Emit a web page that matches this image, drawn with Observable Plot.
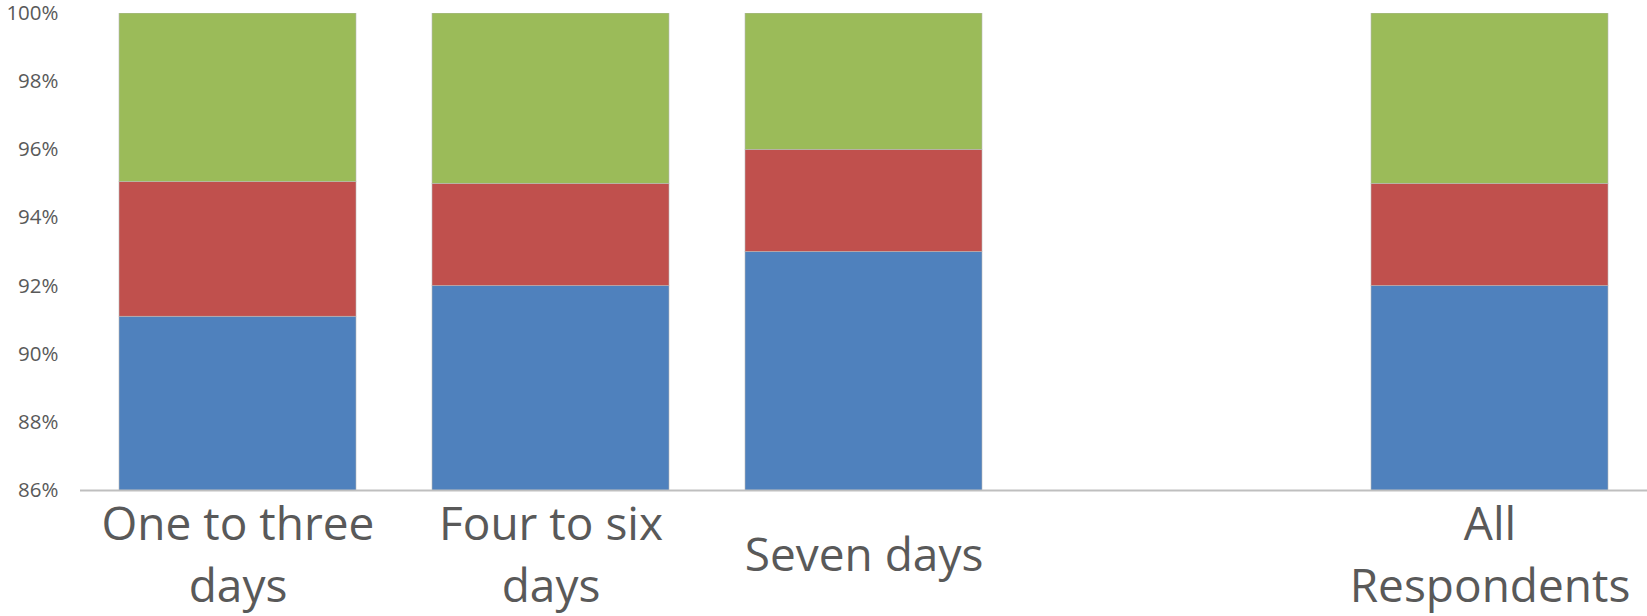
<!DOCTYPE html>
<html>
<head>
<meta charset="utf-8">
<script src="https://cdn.jsdelivr.net/npm/d3@7"></script>
<script src="https://cdn.jsdelivr.net/npm/@observablehq/plot@0.6"></script>
<style>
  html, body { margin: 0; padding: 0; background: #fff; }
  #chart svg { display: block; }
</style>
</head>
<body>
<div id="chart"></div>
<script>
// Categories (the empty slot is a gap in the original chart)
const categories = ["One to three\ndays", "Four to six\ndays", "Seven days", "", "All\nRespondents"];
const barCategories = ["One to three\ndays", "Four to six\ndays", "Seven days", "All\nRespondents"];
const seriesNames = ["Series 1", "Series 2", "Series 3"];
const blueValues  = [91.1, 92.0, 93.0, 92.0];
const redValues   = [3.95, 3.0, 3.0, 3.0];
const greenValues = [4.95, 5.0, 4.0, 5.0];
const yTicks = [86, 88, 90, 92, 94, 96, 98, 100];
const colors = ["#4F81BD", "#C0504D", "#9BBB59"];

const rows = [];
barCategories.forEach((c, i) => {
  rows.push({cat: c, series: seriesNames[0], value: blueValues[i]});
  rows.push({cat: c, series: seriesNames[1], value: redValues[i]});
  rows.push({cat: c, series: seriesNames[2], value: greenValues[i]});
});

const chart = Plot.plot({
  width: 1647,
  height: 616,
  marginTop: 13,
  marginBottom: 126,
  marginLeft: 80,
  marginRight: 0,
  style: {fontFamily: "'Open Sans', sans-serif", background: "#fff"},
  x: {domain: categories, paddingInner: 0.244, paddingOuter: 0.122, label: null},
  y: {domain: [86, 100], label: null},
  color: {domain: seriesNames, range: colors},
  marks: [
    Plot.barY(rows, {
      x: "cat", y: "value", fill: "series", order: seriesNames,
      stroke: "#b8b8b8", strokeWidth: 0.6, clip: "frame"
    }),
    Plot.ruleY([86], {stroke: "#BFBFBF", strokeWidth: 2}),
    Plot.axisY({
      ticks: yTicks, tickSize: 0, tickPadding: 22,
      tickFormat: d => d + "%", fontSize: 20.5, fill: "#595959", label: null
    }),
    Plot.axisX({
      tickSize: 0, tickPadding: 61, lineAnchor: "middle", lineHeight: 1.35,
      fontSize: 46, fill: "#595959", label: null
    })
  ]
});
document.getElementById("chart").appendChild(chart);
</script>
</body>
</html>
